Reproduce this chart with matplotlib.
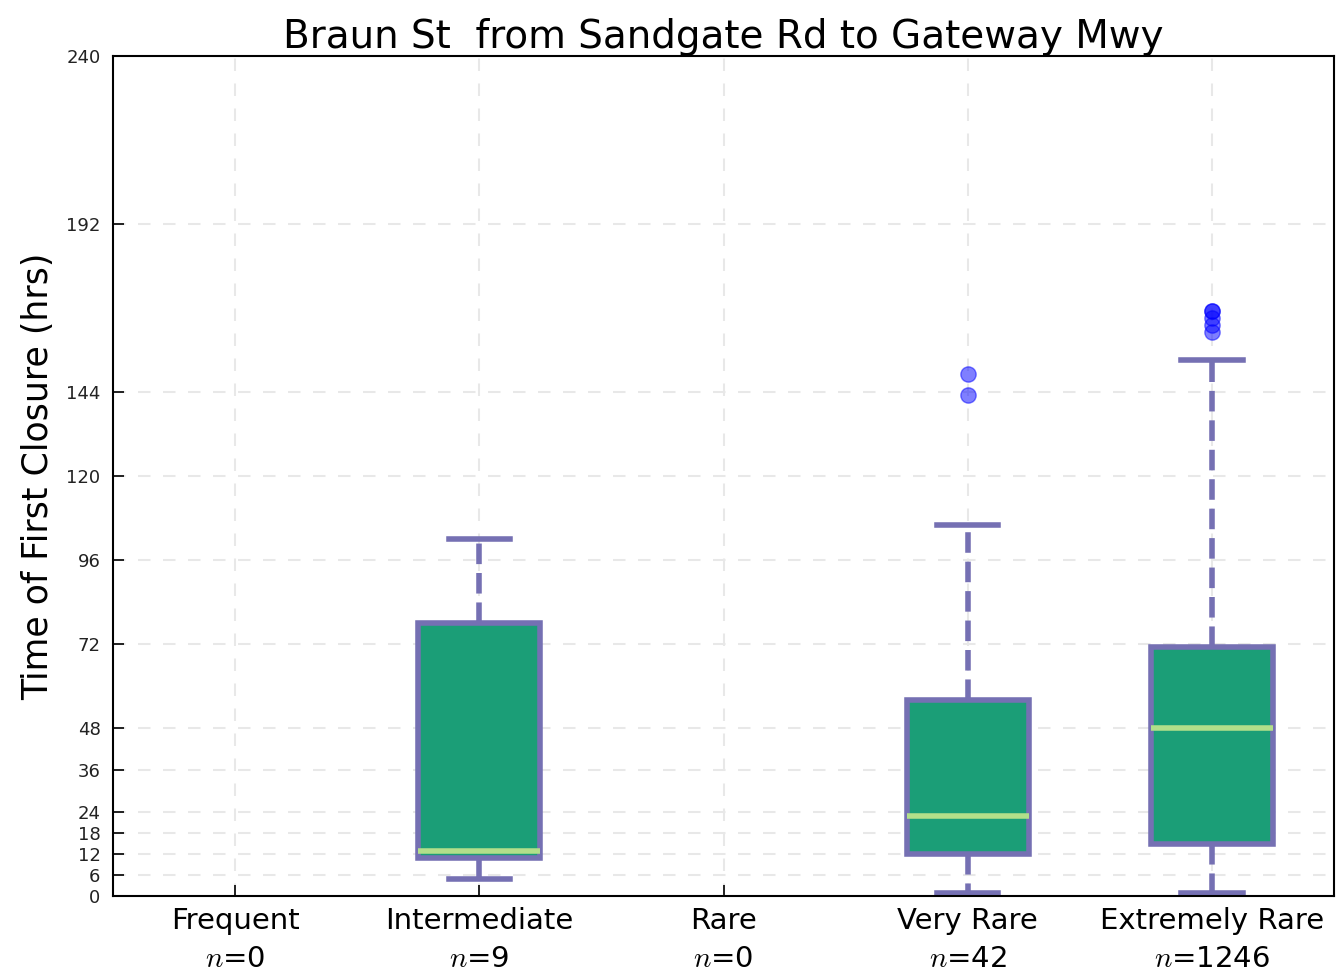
import matplotlib
matplotlib.use('Agg')
import matplotlib.pyplot as plt

plt.rcParams['mathtext.fontset'] = 'cm'

title = "Braun St  from Sandgate Rd to Gateway Mwy"
categories = ["Frequent", "Intermediate", "Rare", "Very Rare", "Extremely Rare"]
counts = [0, 9, 0, 42, 1246]

# box stats per category (None where there is no data)
whislo = [None, 5, None, 1, 1]
q1 = [None, 11, None, 12, 15]
med = [None, 13, None, 23, 48]
q3 = [None, 78, None, 56, 71]
whishi = [None, 102, None, 106, 153]
fliers = [[], [], [], [143, 149], [161, 163, 165, 167, 167]]

yticks = [0, 6, 12, 18, 24, 36, 48, 72, 96, 120, 144, 192, 240]

purple = '#7570b3'
green = '#1b9e77'
light = '#b2df8a'

fig = plt.figure(figsize=(13.36, 9.77), dpi=100)
ax = fig.add_axes([0.0846, 0.0829, 0.914, 0.8598])

stats = []
pos = []
for i in range(len(categories)):
    if counts[i] == 0:
        continue
    stats.append(dict(med=med[i], q1=q1[i], q3=q3[i], whislo=whislo[i],
                      whishi=whishi[i], fliers=fliers[i]))
    pos.append(i + 1)

ax.bxp(stats, positions=pos, widths=0.5, patch_artist=True,
       boxprops=dict(facecolor=green, edgecolor=purple, linewidth=4),
       medianprops=dict(color=light, linewidth=4),
       whiskerprops=dict(color=purple, linewidth=4, linestyle='--'),
       capprops=dict(color=purple, linewidth=4),
       flierprops=dict(marker='o', markerfacecolor='#0000ff', markeredgecolor='#0000ff',
                       alpha=0.5, markersize=11))

ax.set_xlim(0.5, 5.5)
ax.set_ylim(0, 240)
ax.set_yticks(yticks)
ax.set_xticks(range(1, len(categories) + 1))
ax.set_xticklabels([c + "\n$n$=" + str(n) for c, n in zip(categories, counts)],
                   fontsize=21, linespacing=1.45)
ax.tick_params(axis='y', labelsize=13, pad=9, labelcolor='#222222')
ax.tick_params(axis='x', pad=8)
ax.tick_params(direction='in', top=False, right=False, length=8, width=1.2)
ax.grid(True, linestyle='--', color='#e8e8e8', linewidth=1.5, dashes=(6, 6))
ax.set_axisbelow(True)
for s in ax.spines.values():
    s.set_linewidth(1.5)

ax.set_ylabel("Time of First Closure (hrs)", fontsize=25, labelpad=8)
ax.set_title(title, fontsize=28, pad=6)

fig.savefig("out.png", dpi=100)
